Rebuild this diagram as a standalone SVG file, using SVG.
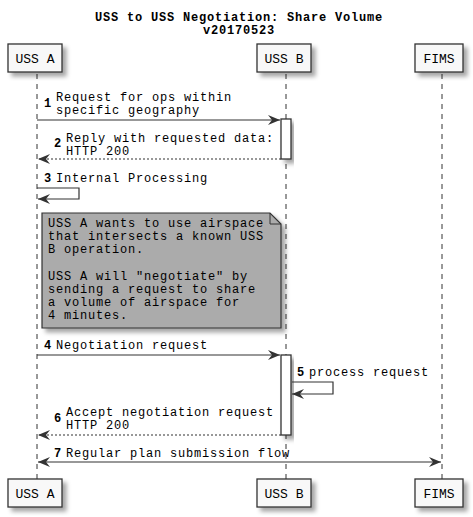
<svg xmlns="http://www.w3.org/2000/svg" width="473" height="517" viewBox="0 0 473 517">
<style>
text{font-family:"Liberation Mono","Courier New",monospace;font-size:13px;fill:#000}
.title{font-weight:bold;text-anchor:middle;font-size:12px;letter-spacing:0.8px}
.num{font-weight:bold;font-size:12px;letter-spacing:0}
.m{font-size:12px;letter-spacing:0.8px}
.pbox{fill:#f8f8f8;stroke:#333;stroke-width:1.3}
.ptext{text-anchor:middle}
.life{stroke:#333;stroke-width:1;stroke-dasharray:5,5;fill:none}
.act{fill:#fff;stroke:#333;stroke-width:1.3}
.msg{stroke:#333;stroke-width:1.2;fill:none}
.ret{stroke:#333;stroke-width:1.2;fill:none;stroke-dasharray:2,2}
.note{fill:#ababab;stroke:#333;stroke-width:1.2}
</style>
<defs>
<filter id="sh" x="-20%" y="-20%" width="150%" height="150%">
<feDropShadow dx="4" dy="4" stdDeviation="2" flood-color="#000" flood-opacity="0.35"/>
</filter>
<marker id="ah" markerWidth="14" markerHeight="10" refX="12" refY="5" orient="auto" markerUnits="userSpaceOnUse">
<path d="M0,0 L12,5 L0,10 L4,5 Z" fill="#333"/>
</marker>
<marker id="ahs" markerWidth="14" markerHeight="10" refX="12" refY="5" orient="auto-start-reverse" markerUnits="userSpaceOnUse">
<path d="M0,0 L12,5 L0,10 L4,5 Z" fill="#333"/>
</marker>
</defs>
<rect width="473" height="517" fill="#fff"/>
<text class="title" x="239" y="20.5">USS to USS Negotiation: Share Volume</text>
<text class="title" x="239" y="33.5">v20170523</text>

<g id="lifelines">
<line class="life" x1="37" y1="74" x2="37" y2="479"/>
<line class="life" x1="286" y1="74" x2="286" y2="479"/>
<line class="life" x1="442" y1="74" x2="442" y2="479"/>
</g>

<g id="uss-a">
<rect class="pbox" x="8" y="44" width="54" height="28" filter="url(#sh)"/>
<text class="ptext" x="35" y="63">USS A</text>
<rect class="pbox" x="8" y="479" width="54" height="28" filter="url(#sh)"/>
<text class="ptext" x="35" y="498">USS A</text>
</g>
<g id="uss-b">
<rect class="pbox" x="257" y="44" width="54" height="28" filter="url(#sh)"/>
<text class="ptext" x="284" y="63">USS B</text>
<rect class="pbox" x="257" y="479" width="54" height="28" filter="url(#sh)"/>
<text class="ptext" x="284" y="498">USS B</text>
<rect class="act" x="281" y="119" width="10" height="40" filter="url(#sh)"/>
<rect class="act" x="281" y="355" width="10" height="80" filter="url(#sh)"/>
</g>
<g id="fims">
<rect class="pbox" x="415" y="44" width="48" height="28" filter="url(#sh)"/>
<text class="ptext" x="439" y="63">FIMS</text>
<rect class="pbox" x="415" y="479" width="48" height="28" filter="url(#sh)"/>
<text class="ptext" x="439" y="498">FIMS</text>
</g>

<g id="note">
<path class="note" d="M42,213 L270,213 L281,224 L281,328 L42,328 Z" filter="url(#sh)"/>
<path d="M270,213 L270,224 L281,224" fill="none" stroke="#333" stroke-width="1"/>
<text class="m" x="48" y="227">USS A wants to use airspace</text>
<text class="m" x="48" y="240">that intersects a known USS</text>
<text class="m" x="48" y="253">B operation.</text>
<text class="m" x="48" y="280">USS A will "negotiate" by</text>
<text class="m" x="48" y="293">sending a request to share</text>
<text class="m" x="48" y="306">a volume of airspace for</text>
<text class="m" x="48" y="319">4 minutes.</text>
</g>

<g id="connectors">
<line class="msg" x1="37" y1="120" x2="280" y2="120" marker-end="url(#ah)"/>
<line class="ret" x1="281" y1="159" x2="38" y2="159" marker-end="url(#ah)"/>
<polyline class="msg" points="37,188 79,188 79,199 38,199" marker-end="url(#ah)"/>
<line class="msg" x1="37" y1="355" x2="280" y2="355" marker-end="url(#ah)"/>
<polyline class="msg" points="292,382 333,382 333,394 292,394" marker-end="url(#ah)"/>
<line class="ret" x1="281" y1="435" x2="38" y2="435" marker-end="url(#ah)"/>
<line class="msg" x1="38" y1="462" x2="441" y2="462" marker-start="url(#ahs)" marker-end="url(#ah)"/>
</g>

<g id="labels">
<text class="num" x="44" y="107">1</text>
<text class="m" x="56" y="100.5">Request for ops within</text>
<text class="m" x="56" y="113.5">specific geography</text>
<text class="num" x="54" y="147">2</text>
<text class="m" x="66" y="141.5">Reply with requested data:</text>
<text class="m" x="66" y="154.5">HTTP 200</text>
<text class="num" x="44" y="182">3</text>
<text class="m" x="56" y="182">Internal Processing</text>
<text class="num" x="44" y="349">4</text>
<text class="m" x="56" y="349">Negotiation request</text>
<text class="num" x="297" y="376">5</text>
<text class="m" x="309" y="376">process request</text>
<text class="num" x="54" y="422">6</text>
<text class="m" x="66" y="415.5">Accept negotiation request</text>
<text class="m" x="66" y="428.5">HTTP 200</text>
<text class="num" x="54" y="457">7</text>
<text class="m" x="66" y="457">Regular plan submission flow</text>
</g>
</svg>
